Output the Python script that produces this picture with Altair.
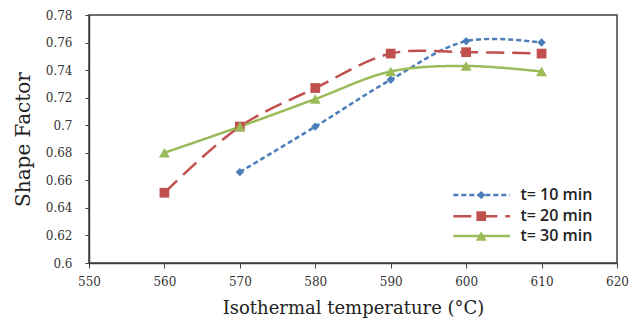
import altair as alt
import pandas as pd

temps = [560, 570, 580, 590, 600, 610]
series = ["t= 10 min", "t= 20 min", "t= 30 min"]
t10 = [None, 0.666, 0.699, 0.733, 0.761, 0.760]
t20 = [0.651, 0.699, 0.727, 0.752, 0.753, 0.752]
t30 = [0.680, 0.699, 0.719, 0.739, 0.743, 0.739]
colors = ["#4A7EBB", "#C0504D", "#9BBB59"]
shapes = ["diamond", "square", "triangle-up"]
sizes = [70, 120, 100]
dashes = [[5, 3], [18, 8], [1, 0]]
x_ticks = [550, 560, 570, 580, 590, 600, 610, 620]
y_ticks = [0.6, 0.62, 0.64, 0.66, 0.68, 0.7, 0.72, 0.74, 0.76, 0.78]

rows = []
for name, vals in zip(series, [t10, t20, t30]):
    for t, v in zip(temps, vals):
        if v is not None:
            rows.append({"series": name, "temp": t, "value": v})
df = pd.DataFrame(rows)

# legend rows (placed in data units inside the plot)
leg_y = [0.6493, 0.634, 0.6196]
leg = pd.DataFrame({
    "series": series,
    "y": leg_y,
    "x1": [598.3] * 3,
    "x2": [605.8] * 3,
    "xm": [602.0] * 3,
    "xt": [607.2] * 3,
})

label_font = "DejaVu Serif"
title_font = "DejaVu Serif"

xs = alt.Scale(domain=[550, 620], nice=False)
ys = alt.Scale(domain=[0.6, 0.78], nice=False, zero=False)
cs = alt.Scale(domain=series, range=colors)
ss = alt.Scale(domain=series, range=shapes)
sz = alt.Scale(domain=series, range=sizes)
ds = alt.Scale(domain=series, range=dashes)

x_axis = alt.Axis(
    values=x_ticks, title="Isothermal temperature (°C)", grid=False,
    labelFont=label_font, labelFontSize=12, labelColor="#333333",
    labelOverlap=False, labelFlush=False,
    titleFont=title_font, titleFontSize=18, titleFontWeight="normal",
    titleColor="#222222", labelPadding=8, titlePadding=12,
    tickSize=5, tickColor="#404040", domainColor="#404040", domainWidth=1.5)
y_axis = alt.Axis(
    values=y_ticks, format=".2~f", title="Shape Factor", grid=False,
    labelFont=label_font, labelFontSize=12, labelColor="#333333",
    labelOverlap=False, labelFlush=False, labelBound=False,
    titleFont=title_font, titleFontSize=20, titleFontWeight="normal",
    titleColor="#222222", labelPadding=13, titlePadding=12,
    tickSize=4, tickColor="#404040", domainColor="#404040", domainWidth=1.5)


def X(f):
    return alt.X(f, scale=xs, axis=x_axis)


def Y(f):
    return alt.Y(f, scale=ys, axis=y_axis)


lines = alt.Chart(df).mark_line(interpolate="catmull-rom", strokeWidth=2.5).encode(
    x=X("temp:Q"), y=Y("value:Q"),
    color=alt.Color("series:N", scale=cs, legend=None),
    strokeDash=alt.StrokeDash("series:N", scale=ds, legend=None),
)
points = alt.Chart(df).mark_point(filled=True, opacity=1).encode(
    x=X("temp:Q"), y=Y("value:Q"),
    color=alt.Color("series:N", scale=cs, legend=None),
    shape=alt.Shape("series:N", scale=ss, legend=None),
    size=alt.Size("series:N", scale=sz, legend=None),
)

leg_lines = alt.Chart(leg).mark_rule(strokeWidth=2.5).encode(
    x=X("x1:Q"), x2="x2:Q", y=Y("y:Q"),
    color=alt.Color("series:N", scale=cs, legend=None),
    strokeDash=alt.StrokeDash("series:N", scale=ds, legend=None),
)
leg_pts = alt.Chart(leg).mark_point(filled=True, opacity=1).encode(
    x=X("xm:Q"), y=Y("y:Q"),
    color=alt.Color("series:N", scale=cs, legend=None),
    shape=alt.Shape("series:N", scale=ss, legend=None),
    size=alt.Size("series:N", scale=sz, legend=None),
)
leg_text = alt.Chart(leg).mark_text(
    align="left", baseline="middle", font="Open Sans", fontSize=16,
    fontWeight=600, color="#222222").encode(
    x=X("xt:Q"), y=Y("y:Q"), text="series:N")

chart = alt.layer(lines, points, leg_lines, leg_pts, leg_text).properties(
    width=528, height=248,
    autosize=alt.AutoSizeParams(type="none"),
    padding={"left": 89, "top": 15, "right": 24, "bottom": 65},
    background="white",
).configure_view(stroke="#404040", strokeWidth=1.5).configure_axis(
    labelOverlap=False)

chart.save("out.html", embed_options={"renderer": "svg", "actions": False})
